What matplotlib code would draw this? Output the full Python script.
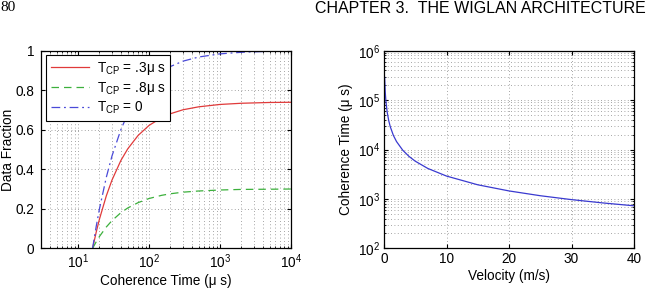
import matplotlib
matplotlib.use('Agg')
import matplotlib.pyplot as plt
import numpy as np
from matplotlib.ticker import LogLocator, NullFormatter

plt.rcParams['font.family'] = ['Liberation Sans', 'DejaVu Sans']
plt.rcParams['mathtext.fontset'] = 'custom'
plt.rcParams['mathtext.rm'] = 'Liberation Sans'
plt.rcParams['mathtext.it'] = 'Liberation Sans:italic'
plt.rcParams['xtick.direction'] = 'in'
plt.rcParams['ytick.direction'] = 'in'

# left panel: data fraction vs coherence time
coh_time = [16, 18, 20, 25, 30, 40, 50, 70, 100, 150, 200, 300, 500, 1000, 2000, 5000, 10000]
frac_03 = [0, 0.082, 0.148, 0.266, 0.345, 0.444, 0.503, 0.571, 0.622, 0.661,
           0.681, 0.701, 0.716, 0.728, 0.734, 0.738, 0.739]
frac_08 = [0, 0.033, 0.06, 0.108, 0.14, 0.18, 0.204, 0.231, 0.252, 0.268,
           0.276, 0.284, 0.290, 0.295, 0.298, 0.299, 0.30]
frac_0 = [0, 0.111, 0.2, 0.36, 0.467, 0.6, 0.68, 0.771, 0.84, 0.893,
          0.92, 0.947, 0.968, 0.984, 0.992, 0.997, 0.998]

# right panel: coherence time vs velocity
velocity = [0.1, 0.2, 0.3, 0.5, 0.75, 1, 1.5, 2, 3, 4, 5, 7, 10, 15, 20, 25, 30, 35, 40]
coh_us = [290000, 145000, 96700, 58000, 38700, 29000, 19300, 14500, 9670, 7250,
          5800, 4140, 2900, 1930, 1450, 1160, 967, 829, 725]

fig = plt.figure(figsize=(6.46, 2.91), dpi=100)

# page header
fig.text(0.0, 0.998, '80', fontsize=11, family=['Liberation Serif', 'DejaVu Serif'],
         va='top', ha='left')
fig.text(0.999, 0.998, 'CHAPTER 3.  THE WIGLAN ARCHITECTURE', fontsize=11.5,
         va='top', ha='right')

grid_kw = dict(ls=(0, (1, 3)), color='#888888', lw=0.6)
fs = 9.8

ax1 = fig.add_axes([41 / 646, 1 - 248.3 / 291, 250 / 646, 197.6 / 291])
ax1.plot(coh_time, frac_03, color='#e03a3a', lw=0.9, label=r'T$_{\rm CP}$ = .3μ s')
ax1.plot(coh_time, frac_08, color='#3cb03c', lw=0.9, ls=(0, (6, 4)), label=r'T$_{\rm CP}$ = .8μ s')
ax1.plot(coh_time, frac_0, color='#4a4ad8', lw=0.9, ls=(0, (7, 3, 1.5, 3)), label=r'T$_{\rm CP}$ = 0')
ax1.set_xscale('log')
ax1.set_xlim(3, 1e4)
ax1.set_ylim(0, 1)
ax1.set_xticks([10, 100, 1000, 10000])
ax1.set_xticklabels([r'$10^1$', r'$10^2$', r'$10^3$', r'$10^4$'])
ax1.xaxis.set_minor_locator(LogLocator(base=10, subs=np.arange(2, 10), numticks=20))
ax1.xaxis.set_minor_formatter(NullFormatter())
ax1.set_yticks([0, 0.2, 0.4, 0.6, 0.8, 1])
ax1.set_yticklabels(['0', '0.2', '0.4', '0.6', '0.8', '1'])
ax1.grid(True, which='major', axis='both', **grid_kw)
ax1.grid(True, which='minor', axis='x', **grid_kw)
ax1.set_xlabel('Coherence Time (μ s)', fontsize=fs, labelpad=2)
ax1.set_ylabel('Data Fraction', fontsize=fs)
ax1.yaxis.set_label_coords(-0.105, 0.5)
leg = ax1.legend(loc='upper left', fontsize=fs, fancybox=False, framealpha=1,
                 edgecolor='black', borderaxespad=0.35, handlelength=2.8,
                 labelspacing=0.2, borderpad=0.35, handletextpad=0.6)
leg.get_frame().set_linewidth(0.8)

ax2 = fig.add_axes([384 / 646, 1 - 248.3 / 291, 250 / 646, 197.6 / 291])
ax2.plot(velocity, coh_us, color='#3a3ad0', lw=0.9)
ax2.set_yscale('log')
ax2.set_xlim(0, 40)
ax2.set_ylim(1e2, 1e6)
ax2.set_xticks([0, 10, 20, 30, 40])
ax2.set_yticks([1e2, 1e3, 1e4, 1e5, 1e6])
ax2.set_yticklabels([r'$10^2$', r'$10^3$', r'$10^4$', r'$10^5$', r'$10^6$'])
ax2.yaxis.set_minor_locator(LogLocator(base=10, subs=np.arange(2, 10), numticks=20))
ax2.yaxis.set_minor_formatter(NullFormatter())
ax2.grid(True, which='major', axis='both', **grid_kw)
ax2.grid(True, which='minor', axis='y', **grid_kw)
ax2.set_xlabel('Velocity (m/s)', fontsize=fs, labelpad=2)
ax2.set_ylabel('Coherence Time (μ s)', fontsize=fs, labelpad=3)

for ax in (ax1, ax2):
    ax.tick_params(which='both', top=True, right=True, labelsize=fs, pad=3)
    ax.tick_params(which='major', length=3)
    ax.tick_params(which='minor', length=1.5)
    for s in ax.spines.values():
        s.set_linewidth(0.9)
ax1.tick_params(axis='y', pad=5)

fig.savefig('out.png', dpi=100)
